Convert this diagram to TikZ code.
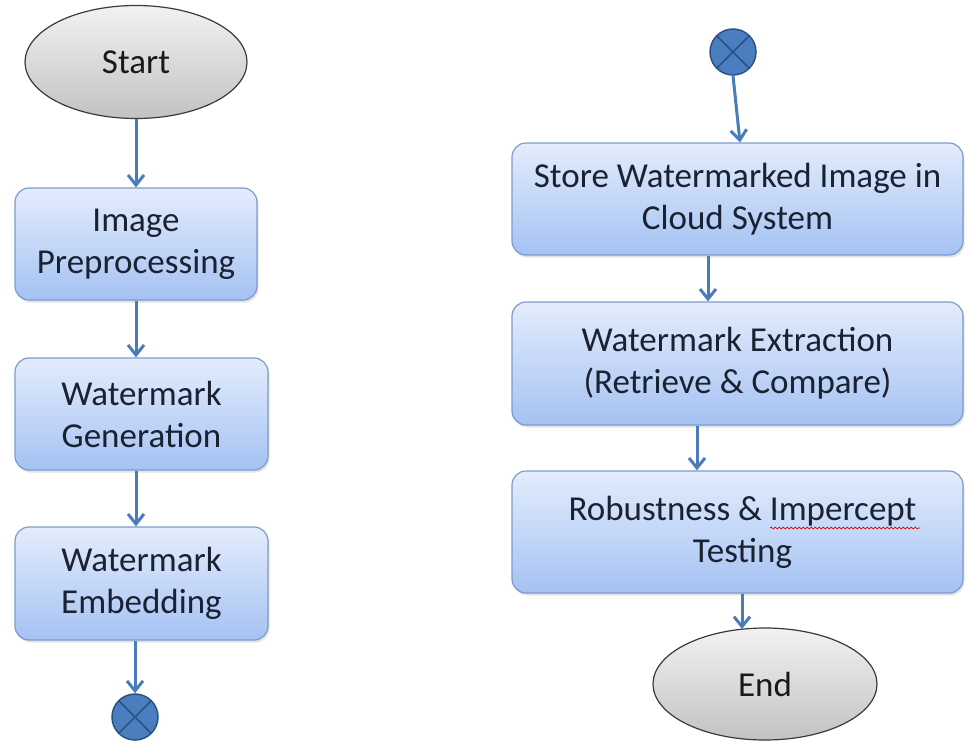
\documentclass[tikz,border=0pt]{standalone}
\usepackage{fontspec}
\setmainfont{Carlito}
\usetikzlibrary{arrows.meta,shapes.geometric,shadows,decorations.pathmorphing,calc}
\definecolor{boxtop}{HTML}{E3ECFC}
\definecolor{boxbot}{HTML}{A5C2F3}
\definecolor{boxline}{HTML}{7C9BCB}
\definecolor{arrowblue}{HTML}{4A7CBC}
\definecolor{txt}{HTML}{1A2232}
\definecolor{circfill}{HTML}{4A7EBE}
\definecolor{circline}{HTML}{2D5184}
\definecolor{ellline}{HTML}{3A3A3A}
\definecolor{elltop}{HTML}{F2F2F2}
\definecolor{ellbot}{HTML}{C2C2C2}
\begin{document}
\begin{tikzpicture}[x=1pt,y=-1pt,
  stepbox/.style={draw=boxline, line width=1.2pt, rounded corners=14pt,
    top color=boxtop, bottom color=boxbot, align=center, text=txt,
    font=\fontsize{35}{42}\selectfont, inner sep=0pt,
    drop shadow={opacity=0.22, shadow xshift=1.5pt, shadow yshift=-2.5pt}},
  termnode/.style={ellipse, draw=ellline, line width=1.2pt,
    top color=elltop, bottom color=ellbot, text=black!90,
    font=\fontsize{35}{42}\selectfont, inner sep=0pt},
  xcircle/.style={circle, draw=circline, line width=1.5pt, fill=circfill,
    minimum size=46pt, inner sep=0pt,
    path picture={\draw[circline, line width=1.5pt]
      (path picture bounding box.north west) -- (path picture bounding box.south east)
      (path picture bounding box.north east) -- (path picture bounding box.south west);}},
  arr/.style={draw=arrowblue, line width=3pt, -{Straight Barb[length=10pt,width=16pt]}}
]
\useasboundingbox (0,0) rectangle (968,742);

% left column
\node[termnode, minimum width=222pt, minimum height=113pt] (start) at (136,62) {Start};
\node[stepbox, minimum width=242pt, minimum height=112pt] (b1) at (136,244) {Image\\Preprocessing};
\node[stepbox, minimum width=253pt, minimum height=112pt] (b2) at (141.5,414) {Watermark\\Generation};
\node[stepbox, minimum width=253pt, minimum height=113pt] (b3) at (141.5,583.5) {Watermark\\Embedding};
\node[xcircle] (c1) at (135,717) {};

\draw[arr] (start.south) -- (b1.north);
\draw[arr] (b1.south) -- (b1.south |- b2.north);
\draw[arr] (b1.south |- b2.south) -- (b1.south |- b3.north);
\draw[arr] ([xshift=-6.5pt]b3.south) -- (c1.north);

% right column
\node[xcircle] (c2) at (733,52) {};
\node[stepbox, minimum width=451pt, minimum height=112pt] (r1) at (737.5,199) {Store Watermarked Image in\\Cloud System};
\node[stepbox, minimum width=451pt, minimum height=123pt] (r2) at (737.5,363.5) {Watermark Extraction\\(Retrieve \& Compare)};
\node[stepbox, minimum width=451pt, minimum height=122pt] (r3) at (737.5,532) {\hspace*{10pt}Robustness \& Impercept\\\hspace*{10pt}Testing};
\node[termnode, minimum width=224pt, minimum height=112pt] (end) at (765,684) {End};

\coordinate (a1) at ([xshift=2.5pt]r1.north);
\draw[arr] (c2.south) -- (a1);
\coordinate (a2) at ([xshift=-29.5pt]r1.south);
\draw[arr] (a2) -- (a2 |- r2.north);
\coordinate (a3) at ([xshift=-40.5pt]r2.south);
\draw[arr] (a3) -- (a3 |- r3.north);
\coordinate (a4) at ([xshift=4.5pt]r3.south);
\coordinate (a5) at (742,629);
\draw[arr] (a4) -- (a5);

% spell-check squiggle
\draw[red!85!black, line width=0.7pt, decorate,
  decoration={snake, segment length=4pt, amplitude=0.9pt}] (770,528) -- (920,528);
\end{tikzpicture}
\end{document}
